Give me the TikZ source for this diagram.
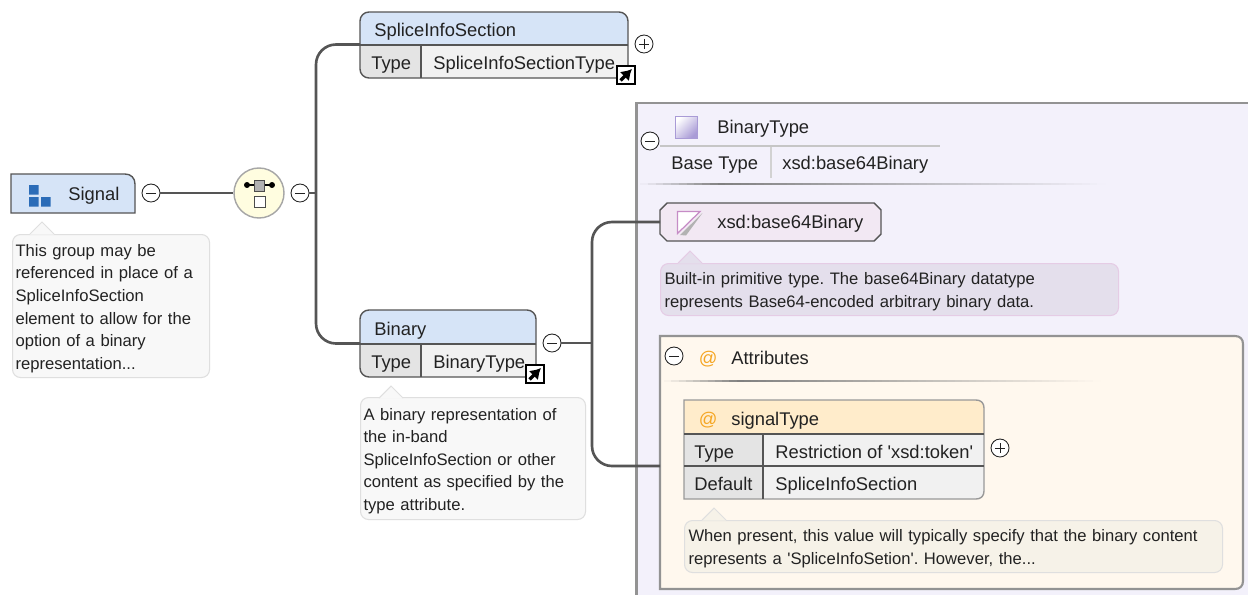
\documentclass[tikz,border=0pt]{standalone}
\usepackage{fontspec}
\setmainfont{Liberation Sans}
\frenchspacing
\usetikzlibrary{positioning,arrows.meta}

\newcommand{\px}{0.02cm}
\definecolor{ink}{HTML}{222222}
\definecolor{wirecol}{HTML}{555555}
\definecolor{headblue}{HTML}{D6E4F7}
\definecolor{cellgray}{HTML}{E4E4E4}
\definecolor{celllight}{HTML}{F1F1F1}
\definecolor{panelpurple}{HTML}{F3F1FB}
\definecolor{panelcream}{HTML}{FFF8EE}
\definecolor{headcream}{HTML}{FFECCB}
\definecolor{simplepink}{HTML}{F2E8F3}
\definecolor{atorange}{HTML}{F5A623}
\definecolor{notegray}{HTML}{F8F8F8}
\definecolor{notepurple}{HTML}{E4DFEC}
\definecolor{notecream}{HTML}{F6F2E8}
\definecolor{iconblue}{HTML}{2B6CB8}
\definecolor{iconviolet}{HTML}{A99BD6}

\tikzset{
  wire/.style={draw=wirecol,line width=1.5pt},
  lbl/.style={anchor=base west,inner sep=0pt,text=ink,font=\fontsize{10.45}{12}\selectfont},
  notebox/.style={anchor=north west,rounded corners=8*\px,line width=.6pt,
    inner xsep=2.2*\px,inner ysep=0pt,align=left,text=ink,
    font=\fontsize{9.46}{12.85}\selectfont},
  btnminus/.style={circle,draw=ink,fill=white,line width=.5pt,minimum size=18*\px,inner sep=0pt,
    path picture={\draw[ink,line width=.5pt] ([xshift=2.5pt]path picture bounding box.west)
      -- ([xshift=-2.5pt]path picture bounding box.east);}},
  btnplus/.style={btnminus,
    path picture={\draw[ink,line width=.5pt] ([xshift=2.5pt]path picture bounding box.west)
      -- ([xshift=-2.5pt]path picture bounding box.east)
      ([yshift=2.5pt]path picture bounding box.south)
      -- ([yshift=-2.5pt]path picture bounding box.north);}},
  boxline/.style={draw=wirecol,line width=.8pt},
}

\newcommand{\notegap}{\rule{0pt}{9.6pt}}
% small white square with the black arrow
\newcommand{\linkicon}[2]{
  \draw[black,fill=white,line width=.7pt] (#1,#2) rectangle ++(18,18);
  \draw[black,line width=2pt,-{Latex[length=6pt,width=7.5pt]}] (#1+3.5,#2+14.5) -- (#1+15,#2+3);
}
% pointer on top of a note, tip at x,y
\newcommand{\notetip}[4]{
  \fill[#3] (#1-12,#2+12.5) -- (#1,#2) -- (#1+12,#2+12.5);
  \draw[#4,line width=.6pt] (#1-12,#2+12) -- (#1,#2) -- (#1+12,#2+12);
}
% rule that fades out to both sides
\newcommand{\fadeline}[4]{
  \foreach \i in {0,...,59} {
    \pgfmathsetmacro\tval{(\i+.5)/60}
    \pgfmathsetmacro\shadeval{\tval<.17 ? 100*\tval/.17 : 100*(1-\tval)/.83}
    \pgfmathsetmacro\xval{#1+\i*(#2/60)}
    \draw[gray!\shadeval!#4,line width=1pt] (\xval,#3) -- ++(#2/60+.5,0);
  }
}

\begin{document}
\begin{tikzpicture}[x=\px,y=-\px]
  \useasboundingbox (0,0) rectangle (1248,595);
  \clip (0,0) rectangle (1248,595);
  \fill[white] (0,0) rectangle (1248,595);

  % outer type panel
  \draw[draw=gray!85,line width=1.2pt,fill=panelpurple] (1260,103) -- (636.5,103) -- (636.5,610) -- (1260,610) -- cycle;
  \shade[left color=white,right color=iconviolet,shading angle=45,draw=iconviolet] (675,116) rectangle (697,138);
  \node[lbl] (binaryTypeTitle) at (717,133.5) {BinaryType};
  \node[btnminus] (typeBtn) at (650,141) {};
  \draw[gray!45,line width=.7pt] (660,146) -- (940,146);
  \draw[gray!35,line width=.7pt] (771,147) -- (771,178);
  \node[lbl] (baseKey) at (671,169.5) {Base Type};
  \node[lbl] (baseVal) at (782,169.5) {xsd:base64Binary};
  \fadeline{640}{465}{184}{panelpurple}

  % simple type
  \draw[draw=wirecol,line width=.8pt,fill=simplepink] (667,203) -- (874,203) -- (881,210) -- (881,234) -- (874,241)
    -- (667,241) -- (660,234) -- (660,210) -- cycle;
  \node[inner sep=0pt,minimum width=221*\px,minimum height=38*\px,anchor=west] (xsdNode) at (660,222) {};
  \fill[gray!60] (680,235) -- (702.5,213) -- (686,235.5) -- cycle;
  \draw[violet!45,fill=white,line width=.7pt] (677.5,211.5) -- (700,211.5) -- (677.5,233.5) -- cycle;
  \node[lbl] (xsdLabel) at (717,228.5) {xsd:base64Binary};
  \node[notebox,draw=violet!20,fill=notepurple,minimum width=458*\px,minimum height=52*\px,text width=450*\px] (xsdNote) at (660,263)
    {\notegap Built-in primitive type. The base64Binary datatype\\represents Base64-encoded arbitrary binary data.};
  \notetip{690}{251}{notepurple}{violet!20}

  % attributes panel
  \draw[draw=gray!85,line width=1.2pt,fill=panelcream] (660,336) -- (1235,336) .. controls (1240,336) and (1243,339) .. (1243,344)
    -- (1243,581) .. controls (1243,586) and (1240,589) .. (1235,589) -- (660,589) -- cycle;
  \node[btnminus] (attrBtn) at (674,356) {};
  \node[lbl,text=atorange] (attrAt) at (698.5,364.5) {@};
  \node[lbl] (attrTitle) at (731,364.5) {Attributes};
  \fadeline{664}{436}{381}{panelcream}

  % signalType
  \fill[headcream] (684,434) -- (684,400) -- (976,400) .. controls (981,400) and (984,403) .. (984,408) -- (984,434) -- cycle;
  \fill[celllight] (763,434) -- (984,434) -- (984,491) .. controls (984,496) and (981,499) .. (976,499) -- (763,499) -- cycle;
  \fill[cellgray] (684,434) rectangle (763,499);
  \draw[draw=gray!80,line width=.8pt] (684,499) -- (684,400) -- (976,400) .. controls (981,400) and (984,403) .. (984,408)
    -- (984,491) .. controls (984,496) and (981,499) .. (976,499) -- cycle;
  \draw[wirecol,line width=.8pt] (684,434) -- (984,434) (684,466) -- (984,466) (763,434) -- (763,499);
  \node[lbl,text=atorange] (sigAt) at (698.5,425.5) {@};
  \node[lbl] (sigTitle) at (731,425.5) {signalType};
  \node[lbl] (sigTypeKey) at (694,458) {Type};
  \node[lbl] (sigTypeVal) at (775,458) {Restriction of \textquotesingle xsd:token\textquotesingle};
  \node[lbl] (sigDefKey) at (694,490) {Default};
  \node[lbl] (sigDefVal) at (775,490) {SpliceInfoSection};
  \node[btnplus] (sigBtn) at (1000,448) {};
  \node[notebox,draw=gray!25,fill=notecream,minimum width=538*\px,minimum height=52*\px,text width=530*\px] (sigNote) at (684,520)
    {\notegap When present, this value will typically specify that the binary content\\represents a \textquotesingle SpliceInfoSetion\textquotesingle. However, the...};
  \notetip{714}{508}{notecream}{gray!25}

  % root element
  \draw[boxline,fill=headblue] (11,174) -- (125,174) .. controls (131,174) and (135,178) .. (135,184) -- (135,213) -- (11,213) -- cycle;
  \fill[iconblue] (29,185) rectangle (38.5,194.5) (29,197) rectangle (38.5,206.5) (41,197) rectangle (50.5,206.5);
  \node[lbl] (signalLabel) at (68,200.5) {Signal};
  \node[btnminus] (signalBtn) at (151,193) {};
  \node[notebox,draw=gray!25,fill=notegray,minimum width=197*\px,minimum height=143*\px,text width=191*\px] (signalNote) at (12,234)
    {\notegap This group may be\\referenced in place of a\\SpliceInfoSection\\element to allow for the\\option of a binary\\representation...};
  \notetip{42}{222}{notegray}{gray!25}

  % choice
  \node[circle,draw=gray!70,fill=yellow!12,line width=.8pt,minimum size=50*\px,inner sep=0pt] (choiceNode) at (259,193) {};
  \draw[black,line width=.6pt] (247,185) -- (272,185);
  \fill[black] (247,185) circle (1.7pt) (272,185) circle (1.7pt);
  \draw[black!70,fill=gray!60,line width=.5pt] (254,180) rectangle (264,191);
  \draw[black!70,fill=white,line width=.5pt] (254,196) rectangle (265,207);
  \node[btnminus] (choiceBtn) at (300,193) {};
  \coordinate (trunkA) at (316,193);

  \draw[wire] (signalBtn) -- (choiceNode);
  \draw[wire] (choiceBtn) -- (trunkA);

  % SpliceInfoSection
  \draw[boxline,fill=headblue,rounded corners=9*\px] (360,45) -- (360,12) -- (628,12) -- (628,45);
  \fill[celllight,rounded corners=9*\px] (421,45) rectangle (628,78);
  \fill[celllight] (421,45) rectangle (500,78);
  \fill[celllight] (600,45) rectangle (628,60);
  \fill[cellgray] (360,45) -- (360,69) .. controls (360,75) and (363,78) .. (369,78) -- (421,78) -- (421,45) -- cycle;
  \draw[boxline,rounded corners=9*\px] (360,45) -- (360,78) -- (628,78) -- (628,45);
  \draw[boxline] (360,45) -- (628,45) (421,45) -- (421,78);
  \coordinate (spliceIn) at (360,44.5);
  \node[lbl] (spliceTitle) at (374,36) {SpliceInfoSection};
  \node[lbl] (spliceKey) at (371,69.5) {Type};
  \node[lbl] (spliceVal) at (433,69.5) {SpliceInfoSectionType};
  \node[btnplus] (spliceBtn) at (644,44) {};
  \linkicon{617}{66}

  % Binary
  \draw[boxline,fill=headblue,rounded corners=9*\px] (360,344) -- (360,310) -- (536,310) -- (536,344);
  \fill[celllight,rounded corners=9*\px] (421,344) rectangle (536,377);
  \fill[celllight] (421,344) rectangle (480,377);
  \fill[celllight] (510,344) rectangle (536,360);
  \fill[cellgray] (360,344) -- (360,368) .. controls (360,374) and (363,377) .. (369,377) -- (421,377) -- (421,344) -- cycle;
  \draw[boxline,rounded corners=9*\px] (360,344) -- (360,377) -- (536,377) -- (536,344);
  \draw[boxline] (360,344) -- (536,344) (421,344) -- (421,377);
  \coordinate (binaryIn) at (360,343.5);
  \node[lbl] (binaryTitle) at (374,335) {Binary};
  \node[lbl] (binaryKey) at (371,368.5) {Type};
  \node[lbl] (binaryVal) at (433,368.5) {BinaryType};
  \node[btnminus] (binaryBtn) at (552,343) {};
  \linkicon{526}{365}
  \node[notebox,draw=gray!25,fill=notegray,minimum width=225*\px,minimum height=122*\px,text width=219*\px] (binaryNote) at (360,397)
    {\notegap A binary representation of\\the in-band\\SpliceInfoSection or other\\content as specified by the\\type attribute.};
  \notetip{391}{386}{notegray}{gray!25}

  \draw[wire,rounded corners=20*\px] (spliceIn) -| (trunkA) |- (binaryIn);

  \coordinate (trunkB) at (592,343);
  \coordinate (attrIn) at (660,466);
  \draw[wire] (binaryBtn) -- (trunkB);
  \draw[wire,rounded corners=20*\px] (xsdNode.west) -| (trunkB) |- (attrIn);
\end{tikzpicture}
\end{document}
